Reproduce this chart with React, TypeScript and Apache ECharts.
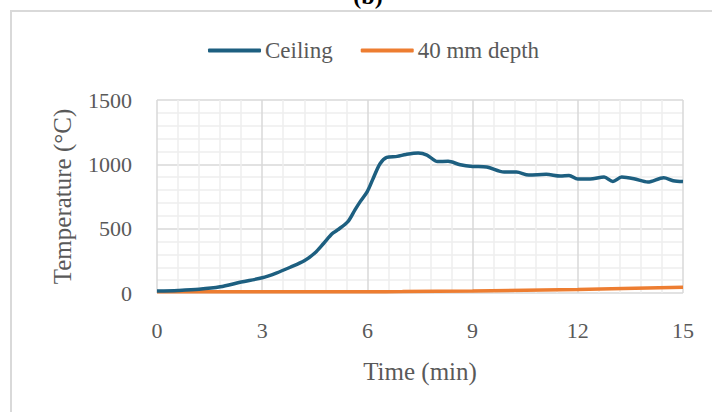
import React, { useEffect, useRef } from "react";
import * as echarts from "echarts";

const ceilingTime = [0, 0.6, 1.2, 1.8, 2.4, 3.0, 3.4, 3.8, 4.2, 4.5, 4.75, 5.0, 5.15, 5.45, 5.65, 5.8, 6.0, 6.17, 6.36, 6.55, 6.85, 7.1, 7.45, 7.7, 8.0, 8.3, 8.65, 9.0, 9.4, 9.9, 10.25, 10.6, 11.1, 11.5, 11.75, 12.0, 12.35, 12.75, 13.0, 13.25, 13.6, 14.0, 14.45, 14.72, 15.0];
const ceilingTemp = [15, 20, 29, 48, 85, 118, 155, 200, 250, 311, 385, 462, 490, 557, 648, 712, 790, 894, 1005, 1054, 1062, 1077, 1088, 1072, 1022, 1023, 997, 984, 979, 940, 940, 917, 922, 909, 914, 886, 886, 901, 867, 901, 888, 862, 896, 873, 866];

const depthTime = [0, 3, 6, 7, 9, 12, 15];
const depthTemp = [10, 10, 10, 11, 15, 27, 44];

const xTicks = [0, 3, 6, 9, 12, 15];
const yTicks = [0, 500, 1000, 1500];

const seriesNames = ["Ceiling", "40 mm depth"];
const FONT = "'Liberation Serif', 'DejaVu Serif', serif";
const TXT = "#595959";

export default function App() {
  const ref = useRef<HTMLDivElement>(null);
  useEffect(() => {
    if (!ref.current) return;
    const chart = echarts.init(ref.current, null, { renderer: "svg" });
    chart.setOption({
      animation: false,
      backgroundColor: "#ffffff",
      textStyle: { fontFamily: FONT },
      graphic: [
        {
          type: "rect",
          shape: { x: 11, y: 11, width: 900, height: 600 },
          style: { fill: "none", stroke: "#d9d9d9", lineWidth: 2 },
          silent: true,
        },
        {
          type: "text",
          x: 368,
          y: 8,
          style: {
            text: "(b)",
            font: "bold 24px " + FONT,
            fill: "#000",
            textAlign: "center",
            textVerticalAlign: "bottom",
          },
        },
      ],
      legend: {
        left: 203,
        top: 34,
        icon: "roundRect",
        itemWidth: 53,
        itemHeight: 4,
        itemGap: 28,
        data: seriesNames,
        textStyle: { fontFamily: FONT, fontSize: 23, color: TXT, padding: [0, 0, 0, -1] },
      },
      grid: { left: 157, right: 29, top: 100, bottom: 119, containLabel: false },
      xAxis: {
        type: "value",
        min: xTicks[0],
        max: xTicks[xTicks.length - 1],
        interval: 3,
        name: "Time (min)",
        nameLocation: "middle",
        nameGap: 66,
        nameTextStyle: { fontFamily: FONT, fontSize: 25, color: TXT },
        axisLine: { show: false },
        axisTick: { show: false },
        axisLabel: { fontFamily: FONT, fontSize: 22, color: TXT, margin: 26, formatter: (v: number) => String(v) },
        splitLine: { show: true, lineStyle: { color: "#d9d9d9", width: 1.5 } },
        minorTick: { show: false, splitNumber: 5 },
        minorSplitLine: { show: true, lineStyle: { color: "#eeeeee", width: 1.5 } },
      },
      yAxis: {
        type: "value",
        min: yTicks[0],
        max: yTicks[yTicks.length - 1],
        interval: 500,
        name: "Temperature (°C)",
        nameLocation: "middle",
        nameGap: 82,
        nameTextStyle: { fontFamily: FONT, fontSize: 25, color: TXT },
        axisLine: { show: false },
        axisTick: { show: false },
        axisLabel: { fontFamily: FONT, fontSize: 22, color: TXT, margin: 25, formatter: (v: number) => String(v) },
        splitLine: { show: true, lineStyle: { color: "#d9d9d9", width: 1.5 } },
        minorTick: { show: false, splitNumber: 5 },
        minorSplitLine: { show: true, lineStyle: { color: "#eeeeee", width: 1.5 } },
      },
      series: [
        {
          name: seriesNames[0],
          type: "line",
          data: ceilingTime.map((t, i) => [t, ceilingTemp[i]]),
          smooth: 0.3,
          showSymbol: false,
          symbol: "none",
          color: "#1d5f80",
          lineStyle: { color: "#1d5f80", width: 3.5 },
          z: 3,
        },
        {
          name: seriesNames[1],
          type: "line",
          data: depthTime.map((t, i) => [t, depthTemp[i]]),
          smooth: 0.3,
          showSymbol: false,
          symbol: "none",
          color: "#ed7d31",
          lineStyle: { color: "#ed7d31", width: 3.5 },
          z: 2,
        },
      ],
    });
    return () => chart.dispose();
  }, []);
  return <div ref={ref} style={{ width: 712, height: 412, position: "absolute", left: 0, top: 0 }} />;
}
